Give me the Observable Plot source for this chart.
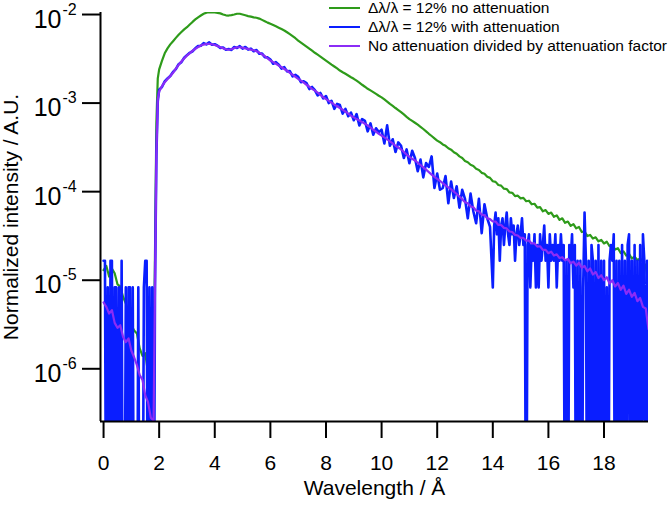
<!DOCTYPE html>
<html><head><meta charset="utf-8">
<script src="https://cdn.jsdelivr.net/npm/d3@7"></script>
<script src="https://cdn.jsdelivr.net/npm/@observablehq/plot@0.6"></script>
<style>
body{margin:0;background:#fff;font-family:"Liberation Sans",Arial,sans-serif}
#wrap{position:relative;width:671px;height:505px;overflow:hidden}
.lg{position:absolute;left:329px;height:20px;display:flex;align-items:center;font-size:15.5px;white-space:nowrap;color:#000}
.lg .sw{display:inline-block;width:31px;height:2px;margin-right:8px}
</style></head><body>
<div id="wrap"></div>
<script>
// Wavelength bins (Å) shared by the two smooth curves
const wavelength = [0,0.1,0.2,0.3,0.4,0.5,0.6,0.7,0.8,0.9,1,1.1,1.2,1.3,1.4,1.5,1.6,1.7,1.8,1.85,1.9,1.95,
2,2.1,2.2,2.3,2.4,2.5,2.6,2.7,2.8,2.9,
3,3.1,3.2,3.3,3.4,3.5,3.6,3.7,3.8,3.9,
4,4.1,4.2,4.3,4.4,4.5,4.6,4.7,4.8,4.9,
5,5.1,5.2,5.3,5.4,5.5,5.6,5.7,5.8,5.9,
6,6.1,6.2,6.3,6.4,6.5,6.6,6.7,6.8,6.9,
7,7.1,7.2,7.3,7.4,7.5,7.6,7.7,7.8,7.9,
8,8.1,8.2,8.3,8.4,8.5,8.6,8.7,8.8,8.9,
9,9.1,9.2,9.3,9.4,9.5,9.6,9.7,9.8,9.9,
10,10.1,10.2,10.3,10.4,10.5,10.6,10.7,10.8,10.9,
11,11.1,11.2,11.3,11.4,11.5,11.6,11.7,11.8,11.9,
12,12.1,12.2,12.3,12.4,12.5,12.6,12.7,12.8,12.9,
13,13.1,13.2,13.3,13.4,13.5,13.6,13.7,13.8,13.9,
14,14.1,14.2,14.3,14.4,14.5,14.6,14.7,14.8,14.9,
15,15.1,15.2,15.3,15.4,15.5,15.6,15.7,15.8,15.9,
16,16.1,16.2,16.3,16.4,16.5,16.6,16.7,16.8,16.9,
17,17.1,17.2,17.3,17.4,17.5,17.6,17.7,17.8,17.9,
18,18.1,18.2,18.3,18.4,18.5,18.6,18.7,18.8,18.9,
19,19.1,19.2,19.3,19.4,19.5,19.6];

// Δλ/λ = 12% no attenuation
const green = [1.3e-5,1.45e-5,1.1e-5,1.35e-5,1.2e-5,9e-6,8.5e-6,6.5e-6,5.5e-6,4.3e-6,3.1e-6,2.7e-6,2.5e-6,1.7e-6,1.4e-6,1.5e-6,9e-7,6e-7,5e-7,
2e-5,6e-4,1.9e-3,
2.4e-3,3.0e-3,3.65e-3,4.15e-3,4.6e-3,5.0e-3,5.45e-3,5.9e-3,6.35e-3,6.8e-3,
7.19e-3,7.7e-3,8.25e-3,8.8e-3,9.3e-3,9.74e-3,1.02e-2,1.05e-2,1.06e-2,1.06e-2,
1.055e-2,1.045e-2,1.03e-2,1.0e-2,9.8e-3,9.74e-3,9.85e-3,1.0e-2,1.02e-2,1.02e-2,
1.0e-2,9.8e-3,9.6e-3,9.45e-3,9.3e-3,9.2e-3,9.0e-3,8.7e-3,8.4e-3,8.1e-3,
7.85e-3,7.6e-3,7.35e-3,7.1e-3,6.85e-3,6.6e-3,6.3e-3,6.0e-3,5.7e-3,5.4e-3,
5.08e-3,4.82e-3,4.58e-3,4.35e-3,4.12e-3,3.9e-3,3.7e-3,3.52e-3,3.35e-3,3.18e-3,
3.02e-3,2.87e-3,2.72e-3,2.59e-3,2.46e-3,2.33e-3,2.23e-3,2.14e-3,2.05e-3,1.96e-3,
1.88e-3,1.79e-3,1.7e-3,1.61e-3,1.53e-3,1.45e-3,1.39e-3,1.33e-3,1.27e-3,1.21e-3,
1.16e-3,1.1e-3,1.04e-3,9.8e-4,9.3e-4,8.8e-4,8.35e-4,7.9e-4,7.45e-4,7.0e-4,
6.6e-4,6.3e-4,6.0e-4,5.7e-4,5.4e-4,5.1e-4,4.8e-4,4.5e-4,4.25e-4,4.0e-4,
3.77e-4,3.62e-4,3.41e-4,3.29e-4,3.09e-4,2.98e-4,2.79e-4,2.68e-4,2.5e-4,2.4e-4,
2.22e-4,2.15e-4,2.01e-4,1.95e-4,1.81e-4,1.76e-4,1.63e-4,1.59e-4,1.47e-4,1.43e-4,
1.31e-4,1.29e-4,1.19e-4,1.17e-4,1.08e-4,1.07e-4,9.8e-5,9.7e-5,8.9e-5,9.0e-5,
8.4e-5,8.5e-5,7.8e-5,7.9e-5,7.2e-5,7.3e-5,6.6e-5,6.7e-5,6.0e-5,6.2e-5,
5.6e-5,5.8e-5,5.2e-5,5.4e-5,4.8e-5,5.0e-5,4.45e-5,4.6e-5,4.1e-5,4.3e-5,
3.85e-5,4.0e-5,3.5e-5,3.55e-5,3.15e-5,3.25e-5,2.95e-5,3.05e-5,2.75e-5,2.85e-5,
2.6e-5,2.72e-5,2.42e-5,2.5e-5,2.22e-5,2.3e-5,2.03e-5,2.12e-5,1.9e-5,1.98e-5,
1.76e-5,1.85e-5,1.68e-5,1.76e-5,1.62e-5,1.45e-5,9e-6];

// No attenuation divided by attenuation factor
const purple = [5.6e-6,5.0e-6,4.2e-6,4.6e-6,3.3e-6,2.9e-6,3.1e-6,2.3e-6,2.0e-6,2.2e-6,1.6e-6,1.35e-6,1.1e-6,8.5e-7,7.5e-7,5.0e-7,4.2e-7,2.8e-7,2.6e-7,
8e-6,2.6e-4,1.1e-3,
1.35e-3,1.55e-3,1.72e-3,1.87e-3,2.02e-3,2.2e-3,2.45e-3,2.7e-3,2.95e-3,3.2e-3,
3.44e-3,3.65e-3,3.9e-3,4.1e-3,4.3e-3,4.47e-3,4.58e-3,4.65e-3,4.66e-3,4.62e-3,
4.52e-3,4.4e-3,4.27e-3,4.15e-3,4.05e-3,4.0e-3,4.05e-3,4.18e-3,4.27e-3,4.27e-3,
4.22e-3,4.15e-3,4.1e-3,4.02e-3,3.95e-3,3.85e-3,3.72e-3,3.55e-3,3.38e-3,3.2e-3,
3.02e-3,2.9e-3,2.78e-3,2.66e-3,2.54e-3,2.43e-3,2.32e-3,2.2e-3,2.09e-3,1.98e-3,
1.88e-3,1.79e-3,1.7e-3,1.61e-3,1.53e-3,1.45e-3,1.38e-3,1.31e-3,1.24e-3,1.17e-3,
1.11e-3,1.06e-3,1.01e-3,9.6e-4,9.2e-4,8.8e-4,8.4e-4,8.0e-4,7.6e-4,7.2e-4,
6.9e-4,6.6e-4,6.35e-4,6.1e-4,5.85e-4,5.6e-4,5.3e-4,5.0e-4,4.75e-4,4.5e-4,
4.3e-4,4.1e-4,3.9e-4,3.7e-4,3.5e-4,3.3e-4,3.15e-4,3.0e-4,2.8e-4,2.62e-4,
2.47e-4,2.35e-4,2.25e-4,2.12e-4,2.0e-4,1.88e-4,1.77e-4,1.66e-4,1.56e-4,1.47e-4,
1.39e-4,1.32e-4,1.25e-4,1.18e-4,1.12e-4,1.06e-4,1.0e-4,9.4e-5,8.8e-5,8.2e-5,
7.6e-5,7.4e-5,6.8e-5,6.7e-5,6.1e-5,6.0e-5,5.5e-5,5.4e-5,5.0e-5,4.9e-5,
4.6e-5,4.6e-5,4.2e-5,4.2e-5,3.9e-5,3.85e-5,3.55e-5,3.5e-5,3.25e-5,3.2e-5,
3.0e-5,3.0e-5,2.8e-5,2.8e-5,2.6e-5,2.6e-5,2.4e-5,2.42e-5,2.2e-5,2.2e-5,
2.02e-5,2.1e-5,1.9e-5,1.96e-5,1.78e-5,1.82e-5,1.68e-5,1.74e-5,1.55e-5,1.62e-5,
1.46e-5,1.58e-5,1.38e-5,1.45e-5,1.26e-5,1.36e-5,1.16e-5,1.24e-5,1.06e-5,1.14e-5,
1.0e-5,1.08e-5,9.2e-6,1.0e-5,8.5e-6,9.3e-6,7.8e-6,8.7e-6,7.0e-6,7.8e-6,
6.5e-6,7.2e-6,5.8e-6,6.3e-6,5.0e-6,4.8e-6,2.8e-6];

// Wavelength bins (Å) of the attenuated measurement (finer where counts are low)
const blueWavelength = [0,0.05,0.1,0.15,0.2,0.25,0.3,0.35,0.4,0.45,0.5,0.55,0.6,0.65,0.7,0.75,0.8,0.85,0.9,0.95,
1,1.05,1.1,1.15,1.2,1.25,1.3,1.35,1.4,1.45,1.5,1.55,1.6,1.65,1.7,1.75,1.8,1.85,
1.9,1.95,
2,2.1,2.2,2.3,2.4,2.5,2.6,2.7,2.8,2.9,
3,3.1,3.2,3.3,3.4,3.5,3.6,3.7,3.8,3.9,
4,4.1,4.2,4.3,4.4,4.5,4.6,4.7,4.8,4.9,
5,5.1,5.2,5.3,5.4,5.5,5.6,5.7,5.8,5.9,
6,6.1,6.2,6.3,6.4,6.5,6.6,6.7,6.8,6.9,
7,7.1,7.2,7.3,7.4,7.5,7.6,7.7,7.8,7.9,
8,8.1,8.2,8.3,8.4,8.5,8.6,8.7,8.8,8.9,
9,9.1,9.2,9.3,9.4,9.5,9.6,9.7,9.8,9.9,
10,10.1,10.2,10.3,10.4,10.5,10.6,10.7,10.8,10.9,
11,11.1,11.2,11.3,11.4,11.5,11.6,11.7,11.8,11.9,
12,12.1,12.2,12.3,12.4,12.5,12.6,12.7,12.8,12.9,
13,13.1,13.2,13.3,13.4,13.5,13.6,13.7,13.8,13.9,
14,14.05,14.1,14.15,14.2,14.25,14.3,14.35,14.4,14.45,
14.5,14.55,14.6,14.65,14.7,14.75,14.8,14.85,14.9,14.95,
15,15.05,15.1,15.15,15.2,15.25,15.3,15.35,15.4,15.45,
15.5,15.55,15.6,15.65,15.7,15.75,15.8,15.85,15.9,15.95,
16,16.05,16.1,16.15,16.2,16.25,16.3,16.35,16.4,16.45,
16.5,16.55,16.6,16.65,16.7,16.75,16.8,16.85,16.9,16.95,
17,17.05,17.1,17.15,17.2,17.25,17.3,17.35,17.4,17.45,
17.5,17.55,17.6,17.65,17.7,17.75,17.8,17.85,17.9,17.95,
18,18.05,18.1,18.15,18.2,18.25,18.3,18.35,18.4,18.45,
18.5,18.55,18.6,18.65,18.7,18.75,18.8,18.85,18.9,18.95,
19,19.05,19.1,19.15,19.2,19.25,19.3,19.35,19.4,19.45,
19.5,19.55,19.6];

// Δλ/λ = 12% with attenuation (0 = no counts)
const blue = [1.66e-5,1.66e-5,0,8.3e-6,0,1.66e-5,1.66e-5,0,8.3e-6,8.3e-6,
0,8.3e-6,0,1.66e-5,0,0,8.3e-6,0,8.3e-6,8.3e-6,
0,8.3e-6,0,0,0,8.3e-6,0,0,0,8.3e-6,1.66e-5,1.66e-5,0,8.3e-6,0,8.3e-6,0,8.3e-6,
2.6e-4,1.05e-3,
1.42e-3,1.52e-3,1.76e-3,1.9e-3,2.02e-3,2.25e-3,2.42e-3,2.75e-3,2.9e-3,3.25e-3,
3.48e-3,3.7e-3,3.85e-3,4.15e-3,4.4e-3,4.45e-3,4.75e-3,4.6e-3,4.85e-3,4.55e-3,
4.62e-3,4.45e-3,4.2e-3,4.25e-3,4.0e-3,4.08e-3,3.98e-3,4.3e-3,4.2e-3,4.4e-3,
4.12e-3,4.3e-3,4.02e-3,4.12e-3,3.85e-3,3.98e-3,3.62e-3,3.62e-3,3.3e-3,3.28e-3,
3.1e-3,2.78e-3,2.9e-3,2.72e-3,2.45e-3,2.55e-3,2.28e-3,2.3e-3,2.0e-3,2.08e-3,
1.98e-3,1.72e-3,1.76e-3,1.68e-3,1.44e-3,1.52e-3,1.4e-3,1.22e-3,1.3e-3,1.13e-3,
1.2e-3,1.0e-3,1.06e-3,8.6e-4,9.8e-4,9.5e-4,7.6e-4,8.6e-4,7.1e-4,7.8e-4,
6.4e-4,7.5e-4,5.6e-4,6.6e-4,6.3e-4,4.8e-4,5.9e-4,4.4e-4,5.2e-4,4.7e-4,
5.0e-4,3.5e-4,5.6e-4,3.3e-4,3.9e-4,2.8e-4,3.6e-4,3.3e-4,2.4e-4,3.0e-4,
2.1e-4,2.9e-4,2.4e-4,1.7e-4,2.3e-4,1.45e-4,2.1e-4,1.9e-4,2.5e-4,1.1e-4,
1.6e-4,1.05e-4,1.1e-4,1.5e-4,7.4e-5,1.3e-4,8.5e-5,1.15e-4,6.6e-5,1.05e-4,
8.3e-5,5.0e-5,9.5e-5,6.0e-5,4.4e-5,8.3e-5,3.4e-5,7.2e-5,5.0e-5,4.0e-5,
8.3e-6,4.15e-5,5.8e-5,3.3e-5,5.0e-5,1.66e-5,4.15e-5,5.0e-5,2.5e-5,4.15e-5,
5.8e-5,3.3e-5,2.5e-5,5.0e-5,3.3e-5,4.15e-5,1.66e-5,3.3e-5,4.15e-5,2.5e-5,
3.3e-5,5.0e-5,2.5e-5,3.3e-5,0,2.5e-5,3.3e-5,8.3e-6,2.5e-5,1.66e-5,
3.3e-5,8.3e-6,2.5e-5,8.3e-6,3.3e-5,1.66e-5,2.5e-5,4.15e-5,1.66e-5,2.5e-5,
8.3e-6,3.3e-5,1.66e-5,2.5e-5,1.66e-5,3.3e-5,8.3e-6,2.5e-5,1.66e-5,3.3e-5,
1.66e-5,2.5e-5,0,1.66e-5,0,2.5e-5,1.66e-5,3.3e-5,8.3e-6,2.5e-5,
0,1.66e-5,0,1.66e-5,0,8.3e-6,5.8e-5,1.66e-5,0,1.66e-5,
0,2.5e-5,1.66e-5,0,1.66e-5,0,2.5e-5,0,1.66e-5,0,
1.66e-5,0,8.3e-6,0,1.66e-5,2.5e-5,1.66e-5,3.3e-5,0,1.66e-5,
0,1.66e-5,0,2.5e-5,0,1.66e-5,0,2.5e-5,3.3e-5,0,
1.66e-5,0,2.5e-5,0,1.66e-5,0,2.5e-5,0,3.3e-5,1.66e-5,
0,1.66e-5,0];

const seriesNames = ["Δλ/λ = 12% no attenuation", "Δλ/λ = 12% with attenuation", "No attenuation divided by attenuation factor"];
const seriesColors = ["#2e9b1a", "#0a1eff", "#8b2cf6"];
const seriesWidths = [2.2, 2.6, 2.2];
const xTicks = [0, 2, 4, 6, 8, 10, 12, 14, 16, 18];
const yTicks = [1e-2, 1e-3, 1e-4, 1e-5, 1e-6];
const yTickExponents = ["-2", "-3", "-4", "-5", "-6"];
const xLabel = "Wavelength / Å";
const yLabel = "Normalized intensity / A.U.";
const xDomain = [-0.11, 19.6];
const yDomain = [2.54e-7, 1.054e-2];

const floorValue = 1e-9; // zero counts drawn down to (and clipped at) the axis
const table = (xs, vals) => xs.map((w, i) => ({w, v: vals[i] > 0 ? vals[i] : floorValue}));
const tables = [table(wavelength, green), table(blueWavelength, blue), table(wavelength, purple)];

const chart = Plot.plot({
  width: 671, height: 505,
  marginLeft: 100, marginRight: 23, marginTop: 12, marginBottom: 84,
  style: {fontFamily: "'Liberation Sans', Arial, sans-serif", background: "white", overflow: "visible"},
  x: {domain: xDomain},
  y: {type: "log", domain: yDomain},
  marks: [
    ...tables.map((t, k) => Plot.line(t, {x: "w", y: "v", stroke: seriesColors[k], strokeWidth: seriesWidths[k], clip: true})),
    Plot.ruleX([xDomain[0]], {strokeWidth: 2}),
    Plot.ruleY([yDomain[0]], {strokeWidth: 2}),
    Plot.axisX({ticks: xTicks, tickSize: 17, tickPadding: 17, strokeWidth: 2, fontSize: 21, label: null}),
    Plot.axisY({ticks: yTicks, tickSize: 18, tickFormat: () => "", strokeWidth: 2, label: null}),
    Plot.text([xLabel], {frameAnchor: "bottom", dy: 67, lineAnchor: "middle", fontSize: 21}),
    Plot.text([yLabel], {frameAnchor: "left", textAnchor: "middle", rotate: -90, dx: -89, lineAnchor: "middle", fontSize: 21}),
    Plot.text(yTicks, {y: d => d, text: () => "10", frameAnchor: "left", textAnchor: "end", dx: -39, dy: 5, fontSize: 25}),
    Plot.text(yTicks, {y: d => d, text: (d, i) => yTickExponents[i], frameAnchor: "left", textAnchor: "start", dx: -38, dy: -5, fontSize: 16})
  ]
});

const wrap = document.getElementById("wrap");
wrap.appendChild(chart);
const rowCenters = [7.5, 26.5, 45.5];
seriesNames.forEach((name, k) => {
  const row = document.createElement("div");
  row.className = "lg";
  row.style.top = (rowCenters[k] - 10) + "px";
  const sw = document.createElement("span");
  sw.className = "sw";
  sw.style.background = seriesColors[k];
  row.appendChild(sw);
  row.appendChild(document.createTextNode(name));
  wrap.appendChild(row);
});
</script>
</body></html>
